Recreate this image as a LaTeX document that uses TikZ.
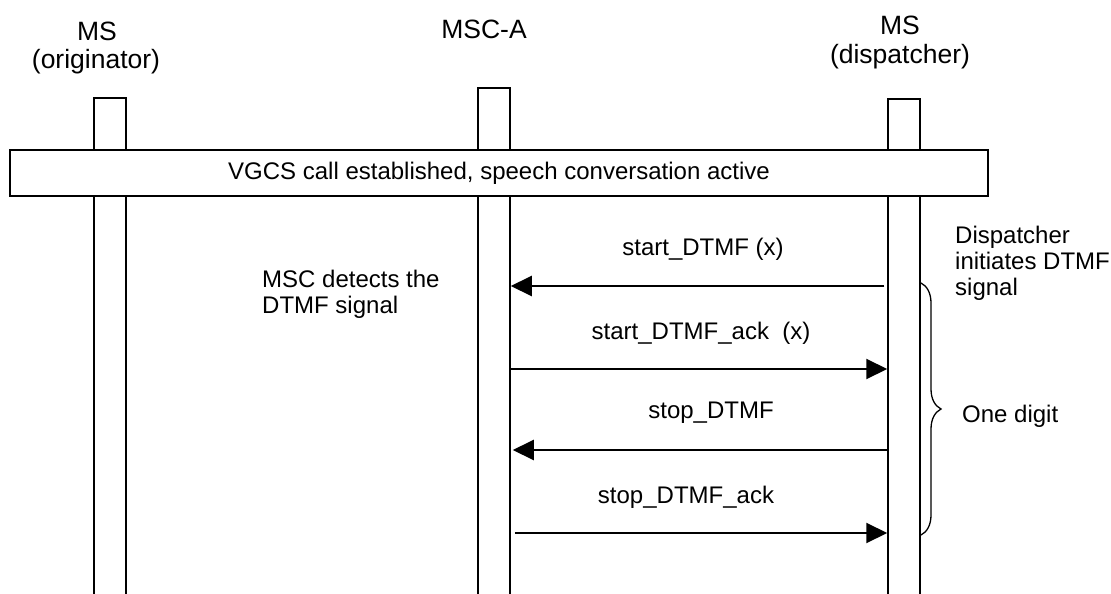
\documentclass[tikz,border=0pt]{standalone}
\usepackage{fontspec}
\setmainfont{Liberation Sans}
\usetikzlibrary{arrows.meta, decorations.pathreplacing}

\tikzset{
  lifeline/.style={draw, line width=1.5pt, minimum width=32pt, minimum height=540pt, inner sep=0pt, anchor=north},
  msg/.style={line width=2pt, -{Triangle[length=21pt, width=20pt]}},
  lbl/.style={font=\fontsize{24}{26}\selectfont, inner sep=0pt},
  head/.style={font=\fontsize{26.5}{28}\selectfont, inner sep=0pt},
}

\begin{document}
\begin{tikzpicture}[x=1pt, y=-1pt]
    \useasboundingbox (0,0) rectangle (1111,594);

    % Lifelines
    \node[lifeline] (orig) at (110,97) {};
    \node[lifeline] (msc) at (494,87) {};
    \node[lifeline] (disp) at (904,98) {};

    % Headers
    \node[head] (origname) at (97,31) {MS};
    \node[head] (origrole) at (96,62) {(originator)};
    \node[head] (mscname) at (484,29) {MSC-A};
    \node[head] (dispname) at (900,25) {MS};
    \node[head] (disprole) at (900,57) {(dispatcher)};

    % Call established
    \node[lbl, draw, fill=white, line width=1.5pt, minimum width=978pt, minimum height=46pt] (bar) at (499,173)
        {VGCS call established, speech conversation active};

    % Message rows
    \coordinate (row1) at (0,286);
    \coordinate (row2) at (0,369);
    \coordinate (row3) at (0,450);
    \coordinate (row4) at (0,533);

    \draw[msg] ([xshift=-3pt]disp.west |- row1) -- (msc.east |- row1);
    \draw[msg] (msc.east |- row2) -- (disp.west |- row2);
    \draw[msg] (disp.west |- row3) -- ([xshift=2pt]msc.east |- row3);
    \draw[msg] ([xshift=4pt]msc.east |- row4) -- (disp.west |- row4);

    \node[lbl] (m1) at (703,249) {start\_DTMF (x)};
    \node[lbl] (m2) at (701,333) {start\_DTMF\_ack\ \ (x)};
    \node[lbl] (m3) at (711,413) {stop\_DTMF};
    \node[lbl] (m4) at (686,497) {stop\_DTMF\_ack};

    % Side notes
    \node[lbl, align=left, anchor=west] (detect) at (262,294) {MSC detects the\\DTMF signal};
    \node[lbl, align=left, anchor=west] (initiate) at (955,263) {Dispatcher\\initiates DTMF\\signal};

    % One digit
    \coordinate (brtop) at (921,283);
    \coordinate (brbot) at (921,535);
    \draw[line width=1.3pt, decorate, decoration={brace, amplitude=20pt}] (brtop) -- (brbot);
    \node[lbl, anchor=west] (digit) at (962,416) {One digit};
\end{tikzpicture}
\end{document}
